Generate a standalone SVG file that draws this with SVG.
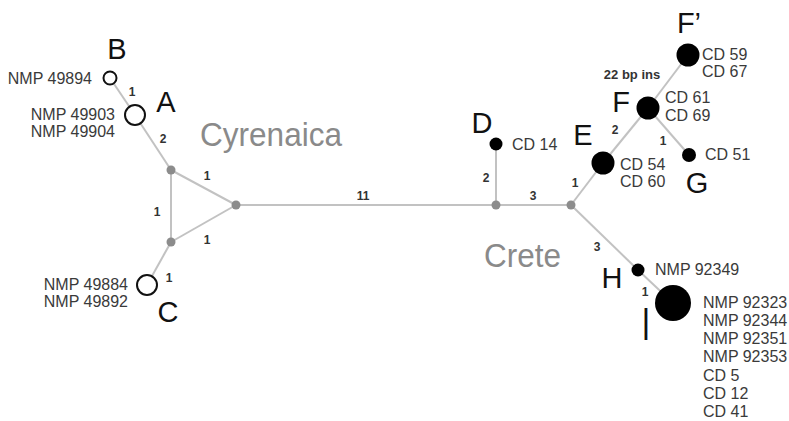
<svg xmlns="http://www.w3.org/2000/svg" width="789" height="421" viewBox="0 0 789 421">
<style>
.e{stroke:#c2c2c2;stroke-width:2;fill:none}
.j{fill:#8c8c8c}
.w{fill:#fff;stroke:#111;stroke-width:2}
.b{fill:#000}
text{font-family:"Liberation Sans",Arial,sans-serif}
.t{font-size:16px;fill:#3a3a3a}
.r{text-anchor:end}
.L{font-size:29px;fill:#111;text-anchor:middle}
.n{font-size:12px;font-weight:bold;fill:#333;text-anchor:middle}
.g{font-size:33px;fill:#8a8a8a}
</style>
<rect width="789" height="421" fill="#fff"/>
<g id="connectors">
<line class="e" x1="110" y1="78" x2="135" y2="115"/>
<line class="e" x1="135" y1="115" x2="171" y2="170"/>
<line class="e" x1="171" y1="170" x2="171" y2="242"/>
<line class="e" x1="171" y1="170" x2="236" y2="205"/>
<line class="e" x1="171" y1="242" x2="236" y2="205"/>
<line class="e" x1="171" y1="242" x2="147" y2="285"/>
<line class="e" x1="236" y1="205" x2="496" y2="205"/>
<line class="e" x1="496" y1="205" x2="496" y2="144"/>
<line class="e" x1="496" y1="205" x2="571" y2="205"/>
<line class="e" x1="571" y1="205" x2="603" y2="163"/>
<line class="e" x1="603" y1="163" x2="648" y2="108"/>
<line class="e" x1="648" y1="108" x2="688" y2="55"/>
<line class="e" x1="648" y1="108" x2="689" y2="155"/>
<line class="e" x1="571" y1="205" x2="638" y2="270"/>
<line class="e" x1="638" y1="270" x2="673" y2="303"/>
<text class="n" x="132" y="96">1</text>
<text class="n" x="163" y="143">2</text>
<text class="n" x="207" y="180">1</text>
<text class="n" x="157" y="216">1</text>
<text class="n" x="207" y="244">1</text>
<text class="n" x="169" y="282">1</text>
<text class="n" x="363" y="200">11</text>
<text class="n" x="486" y="182">2</text>
<text class="n" x="533" y="200">3</text>
<text class="n" x="575" y="187">1</text>
<text class="n" x="615" y="134">2</text>
<text class="n" x="663" y="145">1</text>
<text class="n" x="597" y="251">3</text>
<text class="n" x="645" y="296">1</text>
<text class="n" x="632" y="79" style="font-size:13px">22 bp ins</text>
</g>
<g id="junctions">
<circle class="j" cx="171" cy="170" r="4.5"/>
<circle class="j" cx="171" cy="242" r="4.5"/>
<circle class="j" cx="236" cy="205" r="4.5"/>
<circle class="j" cx="496" cy="205" r="4.5"/>
<circle class="j" cx="571" cy="205" r="4.5"/>
</g>
<g id="regions">
<text class="g" x="200" y="146" textLength="142" lengthAdjust="spacingAndGlyphs">Cyrenaica</text>
<text class="g" x="484" y="267" textLength="77" lengthAdjust="spacingAndGlyphs">Crete</text>
</g>
<g id="node-B">
<circle class="w" cx="110" cy="78" r="6.5"/>
<text class="L" x="117" y="59">B</text>
<text class="t r" x="92" y="84">NMP 49894</text>
</g>
<g id="node-A">
<circle class="w" cx="135" cy="115" r="10"/>
<text class="L" x="166" y="112">A</text>
<text class="t r" x="115" y="120">NMP 49903</text>
<text class="t r" x="115" y="137">NMP 49904</text>
</g>
<g id="node-C">
<circle class="w" cx="147" cy="285" r="10"/>
<text class="L" x="168" y="322">C</text>
<text class="t r" x="128" y="290">NMP 49884</text>
<text class="t r" x="128" y="307">NMP 49892</text>
</g>
<g id="node-D">
<circle class="b" cx="496" cy="144" r="6.5"/>
<text class="L" x="482" y="133">D</text>
<text class="t" x="512" y="150">CD 14</text>
</g>
<g id="node-E">
<circle class="b" cx="603" cy="163" r="11.5"/>
<text class="L" x="583" y="145">E</text>
<text class="t" x="620" y="170">CD 54</text>
<text class="t" x="620" y="187">CD 60</text>
</g>
<g id="node-F">
<circle class="b" cx="648" cy="108" r="11.5"/>
<text class="L" x="621" y="112">F</text>
<text class="t" x="665" y="103">CD 61</text>
<text class="t" x="665" y="121">CD 69</text>
</g>
<g id="node-Fp">
<circle class="b" cx="688" cy="55" r="11.5"/>
<text class="L" x="689" y="33">F’</text>
<text class="t" x="702" y="60">CD 59</text>
<text class="t" x="702" y="77">CD 67</text>
</g>
<g id="node-G">
<circle class="b" cx="689" cy="155" r="7"/>
<text class="L" x="697" y="193">G</text>
<text class="t" x="705" y="160">CD 51</text>
</g>
<g id="node-H">
<circle class="b" cx="638" cy="270" r="6.5"/>
<text class="L" x="612" y="288">H</text>
<text class="t" x="655" y="275">NMP 92349</text>
</g>
<g id="node-I">
<circle class="b" cx="673" cy="303" r="18"/>
<text class="L" transform="translate(646 340) scale(1 1.55)" x="0" y="0" style="font-size:30px">I</text>
<text class="t" x="703" y="308">NMP 92323</text>
<text class="t" x="703" y="326">NMP 92344</text>
<text class="t" x="703" y="344">NMP 92351</text>
<text class="t" x="703" y="362">NMP 92353</text>
<text class="t" x="703" y="381">CD 5</text>
<text class="t" x="703" y="399">CD 12</text>
<text class="t" x="703" y="417">CD 41</text>
</g>
</svg>
